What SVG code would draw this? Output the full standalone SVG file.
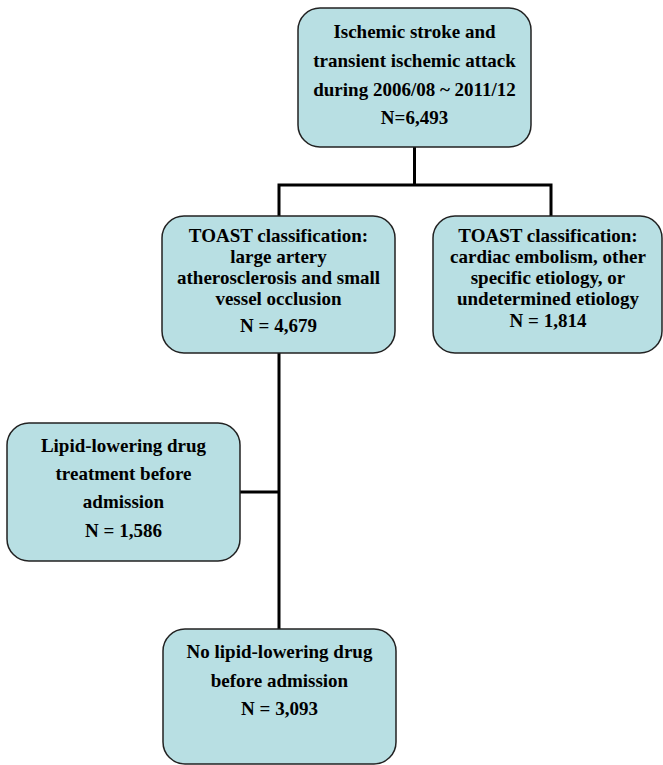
<svg xmlns="http://www.w3.org/2000/svg" width="663" height="765" viewBox="0 0 663 765">
<style>
.box{fill:#b8dfe3;stroke:#222;stroke-width:1.5}
.t{font-family:"Liberation Serif","Times New Roman",serif;font-weight:bold;font-size:19px;fill:#000;text-anchor:middle}
.c{fill:none;stroke:#000;stroke-width:3}
</style>
<rect width="663" height="765" fill="#fff"/>
<g id="connectors">
<path class="c" d="M414.5 147 V185 M279 216 V185 H551 V216"/>
<path class="c" d="M279 353 V630 M240 492 H279"/>
</g>
<g id="n1">
<rect class="box" x="298" y="8" width="233" height="139" rx="22"/>
<text class="t" x="414.5" y="38">Ischemic stroke and</text>
<text class="t" x="414.5" y="67">transient ischemic attack</text>
<text class="t" x="414.5" y="96">during 2006/08 ~ 2011/12</text>
<text class="t" x="414.5" y="124">N=6,493</text>
</g>
<g id="n2">
<rect class="box" x="162" y="216" width="233" height="137" rx="22"/>
<text class="t" x="278.5" y="242">TOAST classification:</text>
<text class="t" x="278.5" y="263">large artery</text>
<text class="t" x="278.5" y="284">atherosclerosis and small</text>
<text class="t" x="278.5" y="305">vessel occlusion</text>
<text class="t" x="278.5" y="332">N = 4,679</text>
</g>
<g id="n3">
<rect class="box" x="433" y="216" width="229" height="137" rx="22"/>
<text class="t" x="548" y="242">TOAST classification:</text>
<text class="t" x="548" y="263">cardiac embolism, other</text>
<text class="t" x="548" y="284">specific etiology, or</text>
<text class="t" x="548" y="305">undetermined etiology</text>
<text class="t" x="548" y="327">N = 1,814</text>
</g>
<g id="n4">
<rect class="box" x="7" y="423" width="233" height="138" rx="22"/>
<text class="t" x="123.5" y="452">Lipid-lowering drug</text>
<text class="t" x="123.5" y="480">treatment before</text>
<text class="t" x="123.5" y="508">admission</text>
<text class="t" x="123.5" y="537">N = 1,586</text>
</g>
<g id="n5">
<rect class="box" x="163" y="629" width="233" height="135" rx="22"/>
<text class="t" x="279.5" y="658">No lipid-lowering drug</text>
<text class="t" x="279.5" y="687">before admission</text>
<text class="t" x="279.5" y="715">N = 3,093</text>
</g>
</svg>
